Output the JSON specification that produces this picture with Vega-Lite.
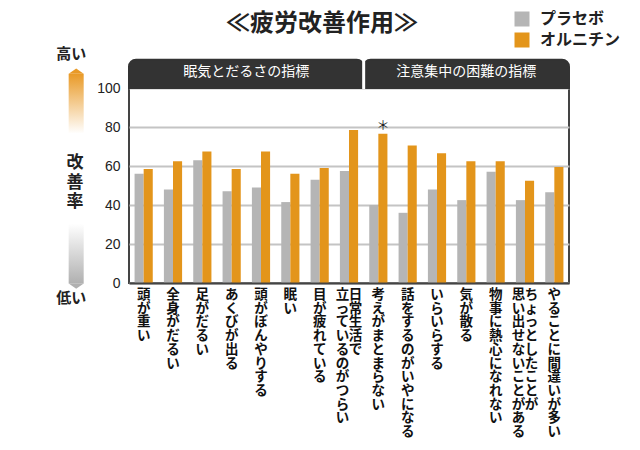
{
  "$schema": "https://vega.github.io/schema/vega-lite/v6.json",
  "width": 440,
  "height": 195,
  "padding": {"left": 56, "top": 11, "right": 0, "bottom": 0},
  "background": "white",
  "config": {"view": {"stroke": "#444", "strokeWidth": 2}, "font": "Noto Sans CJK JP"},
  "title": {"text": "≪疲労改善作用≫", "fontSize": 24, "fontWeight": "bold", "font": "Noto Sans CJK JP", "color": "#222", "anchor": "middle", "frame": "group", "dx": -27, "offset": -25},
  "datasets": {
    "scores": [
      {"cat": "頭が重い", "group": "プラセボ", "value": 56},
      {"cat": "頭が重い", "group": "オルニチン", "value": 58.5},
      {"cat": "全身がだるい", "group": "プラセボ", "value": 48},
      {"cat": "全身がだるい", "group": "オルニチン", "value": 62.5},
      {"cat": "足がだるい", "group": "プラセボ", "value": 63},
      {"cat": "足がだるい", "group": "オルニチン", "value": 67.5},
      {"cat": "あくびが出る", "group": "プラセボ", "value": 47},
      {"cat": "あくびが出る", "group": "オルニチン", "value": 58.5},
      {"cat": "頭がぼんやりする", "group": "プラセボ", "value": 49},
      {"cat": "頭がぼんやりする", "group": "オルニチン", "value": 67.5},
      {"cat": "眠い", "group": "プラセボ", "value": 41.5},
      {"cat": "眠い", "group": "オルニチン", "value": 56},
      {"cat": "目が疲れている", "group": "プラセボ", "value": 53},
      {"cat": "目が疲れている", "group": "オルニチン", "value": 59},
      {"cat": "日常生活で立っているのがつらい", "group": "プラセボ", "value": 57.5},
      {"cat": "日常生活で立っているのがつらい", "group": "オルニチン", "value": 78.5},
      {"cat": "考えがまとまらない", "group": "プラセボ", "value": 40},
      {"cat": "考えがまとまらない", "group": "オルニチン", "value": 76.5, "note": "＊"},
      {"cat": "話をするのがいやになる", "group": "プラセボ", "value": 36},
      {"cat": "話をするのがいやになる", "group": "オルニチン", "value": 70.5},
      {"cat": "いらいらする", "group": "プラセボ", "value": 48},
      {"cat": "いらいらする", "group": "オルニチン", "value": 66.5},
      {"cat": "気が散る", "group": "プラセボ", "value": 42.5},
      {"cat": "気が散る", "group": "オルニチン", "value": 62.5},
      {"cat": "物事に熱心になれない", "group": "プラセボ", "value": 57},
      {"cat": "物事に熱心になれない", "group": "オルニチン", "value": 62.5},
      {"cat": "ちょっとしたことが思い出せないことがある", "group": "プラセボ", "value": 42.5},
      {"cat": "ちょっとしたことが思い出せないことがある", "group": "オルニチン", "value": 52.5},
      {"cat": "やることに間違いが多い", "group": "プラセボ", "value": 46.5},
      {"cat": "やることに間違いが多い", "group": "オルニチン", "value": 59.5}
    ],
    "labels": [
      {"cat": "頭が重い", "col": "single", "text": "頭が重い"},
      {"cat": "全身がだるい", "col": "single", "text": "全身がだるい"},
      {"cat": "足がだるい", "col": "single", "text": "足がだるい"},
      {"cat": "あくびが出る", "col": "single", "text": "あくびが出る"},
      {"cat": "頭がぼんやりする", "col": "single", "text": "頭がぼんやりする"},
      {"cat": "眠い", "col": "single", "text": "眠い"},
      {"cat": "目が疲れている", "col": "single", "text": "目が疲れている"},
      {"cat": "日常生活で立っているのがつらい", "col": "right", "text": "日常生活で"},
      {"cat": "日常生活で立っているのがつらい", "col": "left", "text": "立っているのがつらい"},
      {"cat": "考えがまとまらない", "col": "single", "text": "考えがまとまらない"},
      {"cat": "話をするのがいやになる", "col": "single", "text": "話をするのがいやになる"},
      {"cat": "いらいらする", "col": "single", "text": "いらいらする"},
      {"cat": "気が散る", "col": "single", "text": "気が散る"},
      {"cat": "物事に熱心になれない", "col": "single", "text": "物事に熱心になれない"},
      {"cat": "ちょっとしたことが思い出せないことがある", "col": "right", "text": "ちょっとしたことが"},
      {"cat": "ちょっとしたことが思い出せないことがある", "col": "left", "text": "思い出せないことがある"},
      {"cat": "やることに間違いが多い", "col": "single", "text": "やることに間違いが多い"}
    ],
    "groups": [
      {"group": "眠気とだるさの指標", "start": 0, "end": 8},
      {"group": "注意集中の困難の指標", "start": 8, "end": 15}
    ]
  },
  "layer": [
    {
      "layer": [
        {
          "data": {"name": "scores"},
          "mark": {"type": "bar"},
          "encoding": {
            "x": {"field": "cat", "type": "nominal", "sort": null, "scale": {"domain": ["頭が重い","全身がだるい","足がだるい","あくびが出る","頭がぼんやりする","眠い","目が疲れている","日常生活で立っているのがつらい","考えがまとまらない","話をするのがいやになる","いらいらする","気が散る","物事に熱心になれない","ちょっとしたことが思い出せないことがある","やることに間違いが多い"], "paddingInner": 0.38, "paddingOuter": 0.19},
              "axis": {"labels": false, "ticks": false, "title": null, "domain": true, "domainColor": "#444", "domainWidth": 2, "zindex": 1}},
            "xOffset": {"field": "group", "type": "nominal", "scale": {"domain": ["プラセボ", "オルニチン"]}},
            "y": {"field": "value", "type": "quantitative", "scale": {"domain": [0, 100], "nice": false},
              "axis": {"values": [0, 20, 40, 60, 80, 100], "tickCount": 12, "title": null, "labelOverlap": false,
                "labelFont": "Liberation Sans", "labelFontSize": 14, "labelColor": "#222", "labelPadding": 9, "ticks": false, "domain": false,
                "grid": true, "gridColor": "#c4c4c4", "gridWidth": 2}},
            "color": {"field": "group", "type": "nominal", "scale": {"domain": ["プラセボ", "オルニチン"], "range": ["#b5b5b5", "#e3951b"]},
              "legend": {"orient": "none", "legendX": 385, "legendY": -77, "title": null, "symbolType": "square", "symbolSize": 225, "symbolStrokeWidth": 0, "symbolOpacity": 1, "labelFontSize": 16, "labelFontWeight": "bold", "labelFont": "Noto Sans CJK JP", "labelColor": "#222", "labelOffset": 10, "rowPadding": 5, "padding": 0}}
          }
        },
        {
          "data": {"name": "labels"},
          "transform": [{"filter": "datum.col == 'single'"}, {"calculate": "split(datum.text, '')", "as": "chars"}],
          "mark": {"type": "text", "baseline": "top", "fontSize": 13.5, "fontWeight": "bold", "lineHeight": 13.7, "font": "Noto Sans CJK JP", "color": "#111", "dy": 5},
          "encoding": {
            "x": {"field": "cat", "type": "nominal", "sort": null, "scale": {"domain": ["頭が重い","全身がだるい","足がだるい","あくびが出る","頭がぼんやりする","眠い","目が疲れている","日常生活で立っているのがつらい","考えがまとまらない","話をするのがいやになる","いらいらする","気が散る","物事に熱心になれない","ちょっとしたことが思い出せないことがある","やることに間違いが多い"], "paddingInner": 0.38, "paddingOuter": 0.19}},
            "y": {"datum": 0, "type": "quantitative", "scale": {"domain": [0, 100], "nice": false}},
            "text": {"field": "chars", "type": "nominal"}
          }
        },
        {
          "data": {"name": "labels"},
          "transform": [{"filter": "datum.col == 'right'"}, {"calculate": "split(datum.text, '')", "as": "chars"}],
          "mark": {"type": "text", "baseline": "top", "fontSize": 13.5, "fontWeight": "bold", "lineHeight": 13.7, "font": "Noto Sans CJK JP", "color": "#111", "dy": 5, "dx": 6.5},
          "encoding": {
            "x": {"field": "cat", "type": "nominal", "sort": null, "scale": {"domain": ["頭が重い","全身がだるい","足がだるい","あくびが出る","頭がぼんやりする","眠い","目が疲れている","日常生活で立っているのがつらい","考えがまとまらない","話をするのがいやになる","いらいらする","気が散る","物事に熱心になれない","ちょっとしたことが思い出せないことがある","やることに間違いが多い"], "paddingInner": 0.38, "paddingOuter": 0.19}},
            "y": {"datum": 0, "type": "quantitative", "scale": {"domain": [0, 100], "nice": false}},
            "text": {"field": "chars", "type": "nominal"}
          }
        },
        {
          "data": {"name": "labels"},
          "transform": [{"filter": "datum.col == 'left'"}, {"calculate": "split(datum.text, '')", "as": "chars"}],
          "mark": {"type": "text", "baseline": "top", "fontSize": 13.5, "fontWeight": "bold", "lineHeight": 13.7, "font": "Noto Sans CJK JP", "color": "#111", "dy": 5, "dx": -6.5},
          "encoding": {
            "x": {"field": "cat", "type": "nominal", "sort": null, "scale": {"domain": ["頭が重い","全身がだるい","足がだるい","あくびが出る","頭がぼんやりする","眠い","目が疲れている","日常生活で立っているのがつらい","考えがまとまらない","話をするのがいやになる","いらいらする","気が散る","物事に熱心になれない","ちょっとしたことが思い出せないことがある","やることに間違いが多い"], "paddingInner": 0.38, "paddingOuter": 0.19}},
            "y": {"datum": 0, "type": "quantitative", "scale": {"domain": [0, 100], "nice": false}},
            "text": {"field": "chars", "type": "nominal"}
          }
        },
        {
          "data": {"name": "scores"},
          "transform": [{"filter": "isValid(datum.note)"}],
          "mark": {"type": "text", "baseline": "middle", "fontSize": 13, "font": "Noto Sans CJK JP", "color": "#222", "dy": -8},
          "encoding": {
            "x": {"field": "cat", "type": "nominal", "sort": null, "scale": {"domain": ["頭が重い","全身がだるい","足がだるい","あくびが出る","頭がぼんやりする","眠い","目が疲れている","日常生活で立っているのがつらい","考えがまとまらない","話をするのがいやになる","いらいらする","気が散る","物事に熱心になれない","ちょっとしたことが思い出せないことがある","やることに間違いが多い"], "paddingInner": 0.38, "paddingOuter": 0.19}},
            "xOffset": {"field": "group", "type": "nominal", "scale": {"domain": ["プラセボ", "オルニチン"]}},
            "y": {"field": "value", "type": "quantitative", "scale": {"domain": [0, 100], "nice": false}},
            "text": {"field": "note", "type": "nominal"}
          }
        }
      ]
    },
    {
      "layer": [
        {
          "data": {"name": "groups"},
          "mark": {"type": "rect", "fill": "#333", "stroke": "#333", "strokeWidth": 2, "cornerRadiusTopLeft": 7, "cornerRadiusTopRight": 7},
          "encoding": {
            "x": {"field": "start", "type": "quantitative", "scale": {"domain": [0, 15], "nice": false, "zero": false}, "axis": null},
            "x2": {"field": "end"},
            "y": {"datum": 100, "type": "quantitative", "scale": {"domain": [0, 100], "nice": false}},
            "y2": {"datum": 114.5}
          }
        },
        {
          "data": {"name": "groups"},
          "transform": [{"filter": "datum.start == 0"}],
          "mark": {"type": "rule", "color": "white", "strokeWidth": 3},
          "encoding": {
            "x": {"field": "end", "type": "quantitative", "scale": {"domain": [0, 15], "nice": false, "zero": false}, "axis": null},
            "y": {"datum": 99.5, "type": "quantitative", "scale": {"domain": [0, 100], "nice": false}},
            "y2": {"datum": 116}
          }
        },
        {
          "data": {"name": "groups"},
          "transform": [{"calculate": "(datum.start + datum.end) / 2", "as": "mid"}],
          "mark": {"type": "text", "color": "white", "fontSize": 14, "font": "Noto Sans CJK JP", "baseline": "middle"},
          "encoding": {
            "x": {"field": "mid", "type": "quantitative", "scale": {"domain": [0, 15], "nice": false, "zero": false}, "axis": null},
            "y": {"datum": 108, "type": "quantitative", "scale": {"domain": [0, 100], "nice": false}},
            "text": {"field": "group", "type": "nominal"}
          }
        },
        {
          "data": {"values": [{}]},
          "mark": {"type": "rect", "color": {"gradient": "linear", "x1": 0, "y1": 0, "x2": 0, "y2": 1, "stops": [{"offset": 0, "color": "#e99a27"}, {"offset": 1, "color": "#ffffff"}]}},
          "encoding": {
            "x": {"datum": -2.057, "type": "quantitative", "scale": {"domain": [0, 15], "nice": false, "zero": false}, "axis": null},
            "x2": {"datum": -1.545},
            "y": {"datum": 107.3, "type": "quantitative", "scale": {"domain": [0, 100], "nice": false}},
            "y2": {"datum": 76.6}
          }
        },
        {
          "data": {"values": [{}]},
          "mark": {"type": "point", "shape": "M-1,0L0,-0.7L1,0Z", "size": 225, "filled": true, "color": "#e99a27", "opacity": 1, "strokeWidth": 0},
          "encoding": {
            "x": {"datum": -1.8, "type": "quantitative", "scale": {"domain": [0, 15], "nice": false, "zero": false}, "axis": null},
            "y": {"datum": 107.3, "type": "quantitative", "scale": {"domain": [0, 100], "nice": false}}
          }
        },
        {
          "data": {"values": [{}]},
          "mark": {"type": "rect", "color": {"gradient": "linear", "x1": 0, "y1": 0, "x2": 0, "y2": 1, "stops": [{"offset": 0, "color": "#ffffff"}, {"offset": 1, "color": "#b0b0b0"}]}},
          "encoding": {
            "x": {"datum": -2.057, "type": "quantitative", "scale": {"domain": [0, 15], "nice": false, "zero": false}, "axis": null},
            "x2": {"datum": -1.545},
            "y": {"datum": 30.4, "type": "quantitative", "scale": {"domain": [0, 100], "nice": false}},
            "y2": {"datum": -0.3}
          }
        },
        {
          "data": {"values": [{}]},
          "mark": {"type": "point", "shape": "M-1,0L0,0.7L1,0Z", "size": 225, "filled": true, "color": "#b0b0b0", "opacity": 1, "strokeWidth": 0},
          "encoding": {
            "x": {"datum": -1.8, "type": "quantitative", "scale": {"domain": [0, 15], "nice": false, "zero": false}, "axis": null},
            "y": {"datum": -0.3, "type": "quantitative", "scale": {"domain": [0, 100], "nice": false}}
          }
        },
        {
          "data": {"values": [{"t": "高い"}]},
          "mark": {"type": "text", "fontSize": 15, "fontWeight": "bold", "font": "Noto Sans CJK JP", "color": "#222", "baseline": "middle"},
          "encoding": {
            "x": {"datum": -1.97, "type": "quantitative", "scale": {"domain": [0, 15], "nice": false, "zero": false}, "axis": null},
            "y": {"datum": 117.6, "type": "quantitative", "scale": {"domain": [0, 100], "nice": false}},
            "text": {"field": "t", "type": "nominal"}
          }
        },
        {
          "data": {"values": [{"t": "低い"}]},
          "mark": {"type": "text", "fontSize": 15, "fontWeight": "bold", "font": "Noto Sans CJK JP", "color": "#222", "baseline": "middle"},
          "encoding": {
            "x": {"datum": -1.97, "type": "quantitative", "scale": {"domain": [0, 15], "nice": false, "zero": false}, "axis": null},
            "y": {"datum": -7.7, "type": "quantitative", "scale": {"domain": [0, 100], "nice": false}},
            "text": {"field": "t", "type": "nominal"}
          }
        },
        {
          "data": {"values": [{"t": "改善率"}]},
          "transform": [{"calculate": "split(datum.t, '')", "as": "chars"}],
          "mark": {"type": "text", "fontSize": 17, "fontWeight": "bold", "lineHeight": 19.5, "font": "Noto Sans CJK JP", "color": "#222", "baseline": "middle"},
          "encoding": {
            "x": {"datum": -1.84, "type": "quantitative", "scale": {"domain": [0, 15], "nice": false, "zero": false}, "axis": null},
            "y": {"datum": 61.5, "type": "quantitative", "scale": {"domain": [0, 100], "nice": false}},
            "text": {"field": "chars", "type": "nominal"}
          }
        }
      ]
    }
  ],
  "resolve": {"scale": {"x": "independent"}}
}
